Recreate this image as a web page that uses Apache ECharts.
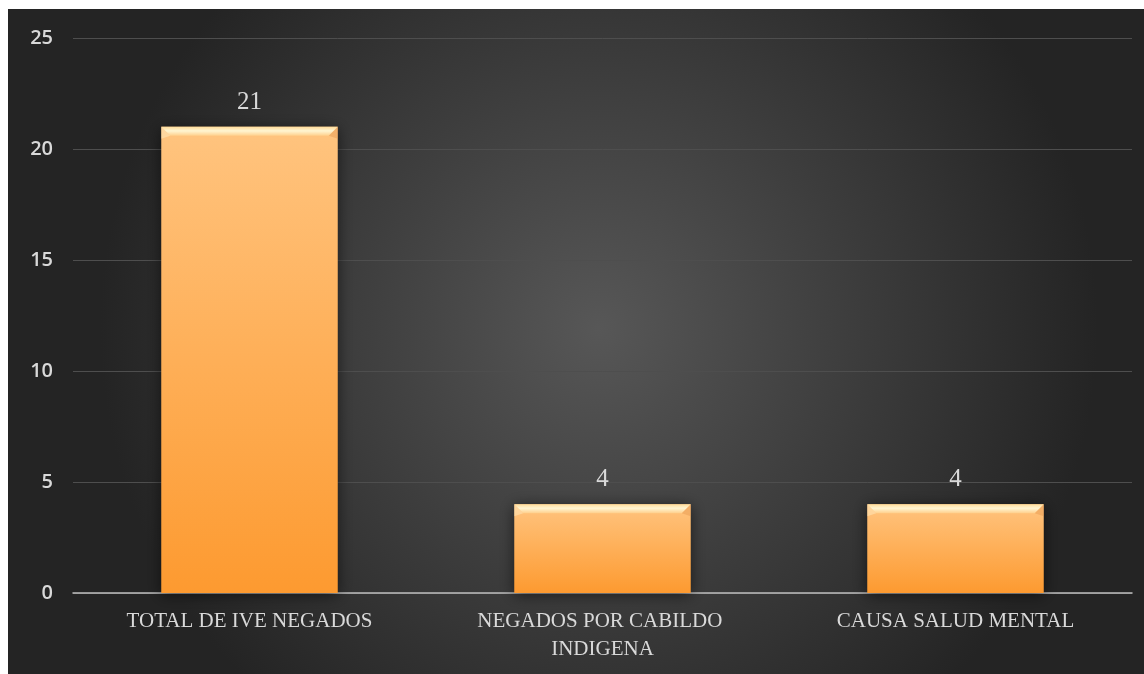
<!DOCTYPE html>
<html>
<head>
<meta charset="utf-8">
<script src="https://cdn.jsdelivr.net/npm/echarts@6/dist/echarts.min.js"></script>
<style>
  html, body { margin: 0; padding: 0; background: #ffffff; width: 1144px; height: 674px; overflow: hidden; }
  #chart { position: absolute; left: 8px; top: 9px; width: 1136px; height: 665px; }
</style>
</head>
<body>
<div id="chart"></div>
<script>
// Data
const categories = ['TOTAL DE IVE NEGADOS', 'NEGADOS POR CABILDO INDIGENA', 'CAUSA SALUD MENTAL'];
const values = [21, 4, 4];
const yTicks = { min: 0, max: 25, interval: 5 };

const chart = echarts.init(document.getElementById('chart'));

const labelColor = '#d9d9d9';
const serif = '"Liberation Serif", "DejaVu Serif", serif';

const option = {
  animation: false,
  backgroundColor: {
    type: 'radial', x: 0.52, y: 0.48, r: 0.75,
    colorStops: [
      { offset: 0, color: '#575757' },
      { offset: 1, color: '#242424' }
    ]
  },
  grid: { left: 65, right: 12, top: 29, bottom: 81, containLabel: false },
  xAxis: {
    type: 'category',
    data: categories,
    axisTick: { show: false },
    axisLine: { lineStyle: { color: '#bfbfbf', width: 1.5 } },
    axisLabel: {
      color: labelColor,
      fontFamily: serif,
      fontSize: 21,
      margin: 14,
      lineHeight: 28,
      width: 300,
      overflow: 'break',
      interval: 0
    }
  },
  yAxis: {
    type: 'value',
    min: yTicks.min, max: yTicks.max, interval: yTicks.interval,
    axisLine: { show: false },
    axisTick: { show: false },
    axisLabel: {
      color: labelColor,
      fontFamily: '"Open Sans", "Liberation Sans", sans-serif',
      fontSize: 20,
      fontWeight: 600,
      margin: 20
    },
    splitLine: { lineStyle: { color: '#4e4e4e', width: 1 } }
  },
  series: [
    {
      type: 'bar',
      data: values,
      barWidth: '50%',
      itemStyle: {
        color: {
          type: 'linear', x: 0, y: 0, x2: 0, y2: 1,
          colorStops: [
            { offset: 0, color: '#ffc47f' },
            { offset: 1, color: '#fd9a30' }
          ]
        },
        shadowColor: 'rgba(0,0,0,0.55)',
        shadowBlur: 14,
        shadowOffsetY: 2
      },
      label: {
        show: true,
        position: 'top',
        distance: 12,
        color: labelColor,
        fontFamily: serif,
        fontSize: 25
      },
      z: 2
    },
    {
      // bevelled top edge of each bar
      type: 'custom',
      data: values.map((v, i) => [i, v]),
      z: 3,
      silent: true,
      renderItem: function (params, api) {
        const top = api.coord([api.value(0), api.value(1)]);
        const w = api.size([1, 0])[0] * 0.5;
        const x0 = top[0] - w / 2;
        const x1 = top[0] + w / 2;
        const y = top[1];
        const b = 9;
        return {
          type: 'group',
          children: [
            {
              type: 'polygon',
              shape: { points: [[x0, y], [x1, y], [x1 - b, y + b], [x0 + b, y + b]] },
              style: {
                fill: {
                  type: 'linear', x: 0, y: 0, x2: 0, y2: 1,
                  colorStops: [
                    { offset: 0, color: '#ffdc9a' },
                    { offset: 0.45, color: '#fff5d2' },
                    { offset: 1, color: '#ffd08c' }
                  ]
                }
              }
            },
            {
              type: 'polygon',
              shape: { points: [[x1, y], [x1, y + 12], [x1 - b, y + b]] },
              style: { fill: 'rgba(220,140,70,0.35)' }
            },
            {
              type: 'polygon',
              shape: { points: [[x0, y], [x0, y + 12], [x0 + b, y + b]] },
              style: { fill: 'rgba(255,240,200,0.45)' }
            }
          ]
        };
      }
    }
  ]
};

chart.setOption(option);
</script>
</body>
</html>
